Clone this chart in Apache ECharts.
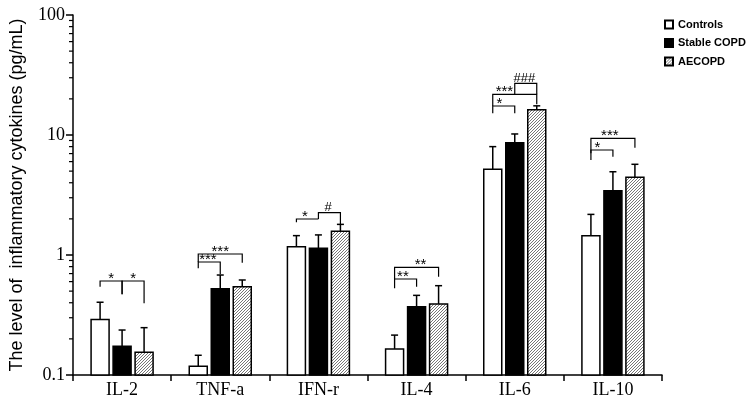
<!DOCTYPE html>
<html><head><meta charset="utf-8">
<script src="https://cdn.jsdelivr.net/npm/echarts@6/dist/echarts.min.js"></script>
<style>html,body{margin:0;padding:0;background:#fff}#c{width:750px;height:406px}</style>
</head><body><div id="c"></div>
<script>
const categories = ['IL-2', 'TNF-a', 'IFN-r', 'IL-4', 'IL-6', 'IL-10'];
const seriesNames = ['Controls', 'Stable COPD', 'AECOPD'];
const controls = [0.29, 0.118, 1.17, 0.165, 5.18, 1.45];
const stable = [0.174, 0.524, 1.14, 0.371, 8.63, 3.43];
const aecopd = [0.155, 0.544, 1.58, 0.391, 16.2, 4.44];
const controlsErr = [0.404, 0.146, 1.45, 0.215, 8.0, 2.18];
const stableErr = [0.237, 0.681, 1.47, 0.461, 10.2, 4.94];
const aecopdErr = [0.248, 0.619, 1.80, 0.555, 17.5, 5.70];
const yMin = 0.1, yMax = 100;
const yMinorTicks = [0.2,0.3,0.4,0.5,0.6,0.7,0.8,0.9,2,3,4,5,6,7,8,9,20,30,40,50,60,70,80,90];
// significance brackets: [category, fromGroup, toGroup, topValue, leftLegBottom, rightLegBottom, label, labelAt]
const brackets = [
  [0, 0, 1, 0.607, 0.544, 0.470, '*', 0.5],
  [0, 1, 2, 0.607, 0.470, 0.396, '*', 0.5],
  [1, 0, 2, 1.019, 0.874, 0.863, '***', 0.5],
  [1, 0, 1, 0.874, 0.775, 0.690, '***', 0.44],
  [2, 0, 1, 1.995, 1.873, 1.995, '*', 0.39],
  [2, 1, 2, 2.252, 1.995, 1.803, '#', 0.44],
  [3, 0, 2, 0.790, 0.631, 0.660, '**', 0.59],
  [3, 0, 1, 0.631, 0.528, 0.544, '**', 0.38],
  [4, 1, 2, 26.97, 21.84, 21.84, '###', 0.44],
  [4, 0, 2, 21.84, 17.45, 18.03, '***', 0.265],
  [4, 0, 1, 17.45, 15.16, 15.16, '*', 0.3],
  [5, 0, 2, 9.39, 7.04, 7.84, '***', 0.43],
  [5, 0, 1, 7.50, 6.19, 6.60, '*', 0.3]
];

const BAR_W = 18, BAR_GAP = 4, STEP = BAR_W + BAR_GAP;

// hatch pattern
const pc = document.createElement('canvas');
pc.width = 3; pc.height = 3;
const g = pc.getContext('2d');
g.fillStyle = '#fff'; g.fillRect(0, 0, 3, 3);
g.strokeStyle = '#666'; g.lineWidth = 0.9;
g.beginPath();
g.moveTo(-1, 4); g.lineTo(4, -1);
g.moveTo(-1, 1); g.lineTo(1, -1);
g.moveTo(2, 4); g.lineTo(4, 2);
g.stroke();
const hatch = { image: pc, repeat: 'repeat' };

const fills = ['#fff', '#000', hatch];
const values = [controls, stable, aecopd];
const errs = [controlsErr, stableErr, aecopdErr];

const errData = [];
values.forEach((arr, gi) => arr.forEach((v, ci) => errData.push([ci, v, errs[gi][ci], gi])));

const chart = echarts.init(document.getElementById('c'));
const barSeries = seriesNames.map((name, gi) => ({
  name: name,
  type: 'custom',
  data: values[gi].map((v, ci) => [ci, v]),
  itemStyle: { color: fills[gi], borderColor: '#000', borderWidth: 1.5 },
  z: 2,
  renderItem: function (params, api) {
    const ci = api.value(0), v = api.value(1);
    const top = api.coord([ci, v]);
    const base = api.coord([ci, yMin]);
    const x = top[0] + (gi - 1) * STEP - BAR_W / 2;
    return {
      type: 'rect',
      shape: { x: x, y: top[1], width: BAR_W, height: base[1] - top[1] },
      style: Object.assign(api.style(), { stroke: '#000', lineWidth: 1.5 })
    };
  }
}));

chart.setOption({
  animation: false,
  grid: { left: 68, right: 88, top: 15, bottom: 31 },
  legend: {
    data: seriesNames,
    orient: 'vertical',
    left: 659, top: 14,
    itemWidth: 8, itemHeight: 8, itemGap: 7.5,
    icon: 'rect',
    textStyle: { fontFamily: 'Liberation Sans', fontWeight: 'bold', fontSize: 11, color: '#000' }
  },
  xAxis: {
    type: 'category',
    data: categories,
    axisLine: { lineStyle: { color: '#000', width: 1.5 } },
    axisTick: { show: true, length: 6, lineStyle: { color: '#000', width: 1.5 } },
    axisLabel: { color: '#000', fontFamily: 'Liberation Serif', fontSize: 18, margin: 6 }
  },
  yAxis: {
    type: 'log', logBase: 10, min: yMin, max: yMax,
    name: 'The level of  inflammatory cytokines (pg/mL)',
    nameLocation: 'middle', nameGap: 47,
    nameTextStyle: { fontFamily: 'Liberation Sans', fontSize: 18, color: '#000' },
    axisLine: { show: true, lineStyle: { color: '#000', width: 1.5 } },
    axisTick: { show: true, length: 7, lineStyle: { color: '#000', width: 1.5 } },
    axisLabel: { color: '#000', fontFamily: 'Liberation Serif', fontSize: 18, margin: 8 },
    splitLine: { show: false }
  },
  series: barSeries.concat([{
    type: 'custom',
    name: 'minorTicks',
    silent: true,
    z: 5,
    data: yMinorTicks.map(v => [0, v]),
    renderItem: function (params, api) {
      const p = api.coord([0, api.value(1)]);
      const x0 = params.coordSys.x;
      return { type: 'line', shape: { x1: x0 - 4, y1: p[1], x2: x0, y2: p[1] }, style: { stroke: '#000', lineWidth: 1.2 } };
    }
  }, {
    type: 'custom',
    name: 'errors',
    z: 3,
    silent: true,
    data: errData,
    renderItem: function (params, api) {
      const ci = api.value(0), v = api.value(1), e = api.value(2), gi = api.value(3);
      const p1 = api.coord([ci, v]);
      const p2 = api.coord([ci, e]);
      const x = p1[0] + (gi - 1) * STEP;
      return { type: 'group', children: [
        { type: 'line', shape: { x1: x, y1: p1[1], x2: x, y2: p2[1] }, style: { stroke: '#000', lineWidth: 1.5 } },
        { type: 'line', shape: { x1: x - 3.5, y1: p2[1], x2: x + 3.5, y2: p2[1] }, style: { stroke: '#000', lineWidth: 1.5 } }
      ] };
    }
  }, {
    type: 'custom',
    name: 'brackets',
    z: 4,
    silent: true,
    data: brackets.map(b => [b[0], b[3]]),
    renderItem: function (params, api) {
      const b = brackets[params.dataIndex];
      const c = api.coord([b[0], b[3]]);
      const x1 = c[0] + (b[1] - 1) * STEP, x2 = c[0] + (b[2] - 1) * STEP;
      const yT = c[1];
      const yL = api.coord([b[0], b[4]])[1];
      const yR = api.coord([b[0], b[5]])[1];
      const isHash = b[6].indexOf('#') >= 0;
      return { type: 'group', children: [
        { type: 'polyline', shape: { points: [[x1, yL], [x1, yT], [x2, yT], [x2, yR]] }, style: { stroke: '#000', lineWidth: 1.2, fill: null } },
        { type: 'text', style: {
          text: b[6], x: x1 + (x2 - x1) * b[7], y: isHash ? yT - 5 : yT - 2.5,
          align: 'center', verticalAlign: 'middle',
          font: isHash ? '13px Liberation Sans' : '15px Liberation Sans', fill: '#000'
        } }
      ] };
    }
  }])
});
</script>
</body></html>
